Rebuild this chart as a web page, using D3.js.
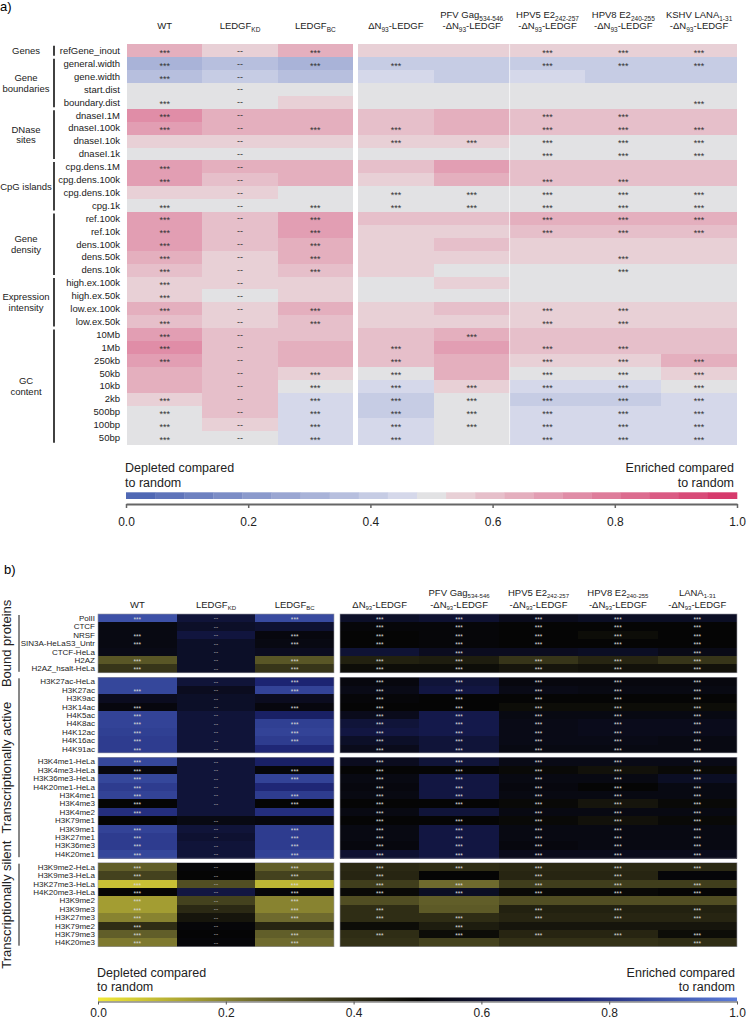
<!DOCTYPE html>
<html>
<head>
<meta charset="utf-8">
<script src="https://cdn.jsdelivr.net/npm/d3@7"></script>
<style>
  body { margin: 0; background: #fff; }
  svg { display: block; font-family: "Liberation Sans", Arial, Helvetica, sans-serif; }
</style>
</head>
<body>
<div id="chart"></div>
<script>
// ---------- panel a data ----------
var aRows = ["refGene_inout", "general.width", "gene.width", "start.dist", "boundary.dist",
  "dnaseI.1M", "dnaseI.100k", "dnaseI.10k", "dnaseI.1k",
  "cpg.dens.1M", "cpg.dens.100k", "cpg.dens.10k", "cpg.1k",
  "ref.100k", "ref.10k", "dens.100k", "dens.50k", "dens.10k",
  "high.ex.100k", "high.ex.50k", "low.ex.100k", "low.ex.50k",
  "10Mb", "1Mb", "250kb", "50kb", "10kb", "2kb", "500bp", "100bp", "50bp"];
var aGroups = [["Genes"], ["Gene", "boundaries"], ["DNase", "sites"], ["CpG islands"],
  ["Gene", "density"], ["Expression", "intensity"], ["GC", "content"]];
var aGroupSizes = [1, 4, 4, 4, 5, 4, 9];

// header lines: [text, isSubscript]
var aHeaders = [
  [[["WT"]]],
  [[["LEDGF"], ["KD", 1]]],
  [[["LEDGF"], ["BC", 1]]],
  [[["ΔN"], ["93", 1], ["-LEDGF"]]],
  [[["PFV Gag"], ["534-546", 1]], [["-ΔN"], ["93", 1], ["-LEDGF"]]],
  [[["HPV5 E2"], ["242-257", 1]], [["-ΔN"], ["93", 1], ["-LEDGF"]]],
  [[["HPV8 E2"], ["240-255", 1]], [["-ΔN"], ["93", 1], ["-LEDGF"]]],
  [[["KSHV LANA"], ["1-31", 1]], [["-ΔN"], ["93", 1], ["-LEDGF"]]]
];

// columns: WT, KD, BC, dN93, PFV, HPV5, HPV8, KSHV
var aValues = [
  [0.65, 0.55, 0.65, 0.55, 0.55, 0.55, 0.55, 0.55],
  [0.30, 0.37, 0.33, 0.40, 0.40, 0.40, 0.40, 0.40],
  [0.37, 0.41, 0.38, 0.45, 0.40, 0.45, 0.40, 0.40],
  [0.50, 0.50, 0.50, 0.50, 0.50, 0.50, 0.50, 0.50],
  [0.50, 0.50, 0.55, 0.50, 0.50, 0.50, 0.50, 0.50],
  [0.74, 0.64, 0.66, 0.60, 0.65, 0.60, 0.60, 0.60],
  [0.69, 0.63, 0.66, 0.60, 0.65, 0.60, 0.60, 0.60],
  [0.56, 0.56, 0.56, 0.56, 0.56, 0.50, 0.50, 0.50],
  [0.50, 0.50, 0.50, 0.50, 0.50, 0.50, 0.50, 0.50],
  [0.70, 0.63, 0.66, 0.60, 0.67, 0.59, 0.59, 0.59],
  [0.69, 0.60, 0.65, 0.57, 0.63, 0.59, 0.59, 0.59],
  [0.56, 0.56, 0.50, 0.50, 0.50, 0.50, 0.50, 0.50],
  [0.50, 0.50, 0.50, 0.50, 0.50, 0.50, 0.50, 0.50],
  [0.69, 0.60, 0.69, 0.60, 0.60, 0.63, 0.63, 0.63],
  [0.69, 0.60, 0.69, 0.56, 0.56, 0.60, 0.60, 0.60],
  [0.69, 0.60, 0.65, 0.56, 0.60, 0.56, 0.56, 0.56],
  [0.65, 0.56, 0.65, 0.56, 0.56, 0.56, 0.56, 0.56],
  [0.60, 0.56, 0.60, 0.56, 0.50, 0.50, 0.50, 0.50],
  [0.56, 0.56, 0.56, 0.50, 0.56, 0.50, 0.50, 0.50],
  [0.56, 0.50, 0.56, 0.50, 0.50, 0.50, 0.50, 0.50],
  [0.65, 0.56, 0.65, 0.56, 0.60, 0.56, 0.56, 0.56],
  [0.60, 0.56, 0.60, 0.56, 0.56, 0.56, 0.56, 0.56],
  [0.69, 0.60, 0.60, 0.60, 0.62, 0.60, 0.60, 0.60],
  [0.74, 0.60, 0.65, 0.60, 0.67, 0.60, 0.60, 0.60],
  [0.69, 0.60, 0.62, 0.60, 0.62, 0.56, 0.56, 0.62],
  [0.65, 0.60, 0.56, 0.50, 0.62, 0.50, 0.50, 0.56],
  [0.62, 0.60, 0.50, 0.45, 0.56, 0.45, 0.45, 0.50],
  [0.56, 0.60, 0.43, 0.40, 0.50, 0.40, 0.40, 0.45],
  [0.50, 0.60, 0.45, 0.40, 0.50, 0.45, 0.45, 0.45],
  [0.50, 0.56, 0.45, 0.45, 0.50, 0.45, 0.45, 0.45],
  [0.50, 0.50, 0.45, 0.45, 0.50, 0.45, 0.45, 0.45]
];
// "*" = ***, "-" = --, "." = nothing
var aSig = ["*-*..***", "*-**.***", "*-......", ".-......", "*-.....*",
  "*-...**.", "*-**.***", ".-.*****", ".-...***",
  "*-......", "*-...**.", ".-.*****", "*-******",
  "*-*..***", "*-*..***", "*-*.....", "*-*...*.", "*-*...*.",
  "*-......", "*-......", "*-*..**.", "*-*..**.",
  "*-..*...", "*-.*.**.", "*-.*.***", ".-**.***", ".-******",
  "*-******", "*-******", "*-******", "*-**.***"];
var aTicks = [0, 0.2, 0.4, 0.6, 0.8, 1.0];

// ---------- panel b data ----------
var bRows = ["PolII", "CTCF", "NRSF", "SIN3A-HeLaS3_Untr", "CTCF-HeLa", "H2AZ", "H2AZ_hsalt-HeLa",
  "H3K27ac-HeLa", "H3K27ac", "H3K9ac", "H3K14ac", "H4K5ac", "H4K8ac", "H4K12ac", "H4K16ac", "H4K91ac",
  "H3K4me1-HeLa", "H3K4me3-HeLa", "H3K36me3-HeLa", "H4K20me1-HeLa", "H3K4me1", "H3K4me3", "H3K4me2",
  "H3K79me1", "H3K9me1", "H3K27me1", "H3K36me3", "H4K20me1",
  "H3K9me2-HeLa", "H3K9me3-HeLa", "H3K27me3-HeLa", "H4K20me3-HeLa", "H3K9me2", "H3K9me3",
  "H3K27me3", "H3K79me2", "H3K79me3", "H4K20me3"];
var bBlockSizes = [7, 9, 12, 10];
var bSections = ["Bound proteins", "Transcriptionally active", "Transcriptionally silent"];
var bSectionBlocks = [[0], [1, 2], [3]];
var bHeaders = aHeaders.slice(0, 7).concat([[[["LANA"], ["1-31", 1]], [["-ΔN"], ["93", 1], ["-LEDGF"]]]]);

var bValues = [
  [0.88, 0.62, 0.86, 0.58, 0.60, 0.55, 0.57, 0.57],
  [0.53, 0.58, 0.60, 0.51, 0.51, 0.50, 0.50, 0.50],
  [0.53, 0.63, 0.52, 0.50, 0.51, 0.50, 0.48, 0.50],
  [0.53, 0.58, 0.53, 0.50, 0.51, 0.50, 0.50, 0.50],
  [0.54, 0.58, 0.56, 0.61, 0.56, 0.56, 0.57, 0.54],
  [0.30, 0.58, 0.30, 0.43, 0.44, 0.38, 0.42, 0.38],
  [0.38, 0.58, 0.38, 0.48, 0.48, 0.46, 0.47, 0.47],
  [0.85, 0.62, 0.75, 0.52, 0.62, 0.52, 0.52, 0.52],
  [0.85, 0.56, 0.84, 0.54, 0.64, 0.54, 0.53, 0.53],
  [0.56, 0.58, 0.56, 0.51, 0.50, 0.50, 0.50, 0.50],
  [0.52, 0.58, 0.52, 0.50, 0.50, 0.48, 0.48, 0.48],
  [0.84, 0.62, 0.72, 0.55, 0.66, 0.53, 0.53, 0.53],
  [0.84, 0.62, 0.83, 0.62, 0.66, 0.54, 0.55, 0.55],
  [0.83, 0.62, 0.84, 0.64, 0.66, 0.54, 0.55, 0.55],
  [0.82, 0.62, 0.82, 0.58, 0.62, 0.54, 0.54, 0.53],
  [0.82, 0.62, 0.76, 0.55, 0.62, 0.53, 0.53, 0.53],
  [0.85, 0.62, 0.72, 0.56, 0.62, 0.54, 0.54, 0.54],
  [0.52, 0.62, 0.51, 0.50, 0.50, 0.49, 0.47, 0.49],
  [0.85, 0.62, 0.84, 0.53, 0.64, 0.53, 0.53, 0.57],
  [0.82, 0.62, 0.76, 0.52, 0.64, 0.52, 0.50, 0.53],
  [0.84, 0.62, 0.82, 0.53, 0.64, 0.53, 0.53, 0.53],
  [0.50, 0.62, 0.50, 0.50, 0.50, 0.49, 0.46, 0.49],
  [0.78, 0.62, 0.78, 0.53, 0.62, 0.53, 0.53, 0.53],
  [0.50, 0.53, 0.52, 0.50, 0.50, 0.49, 0.47, 0.49],
  [0.84, 0.62, 0.82, 0.53, 0.64, 0.53, 0.53, 0.53],
  [0.82, 0.60, 0.82, 0.53, 0.64, 0.53, 0.53, 0.53],
  [0.82, 0.62, 0.82, 0.52, 0.64, 0.52, 0.53, 0.53],
  [0.85, 0.62, 0.84, 0.60, 0.64, 0.55, 0.55, 0.55],
  [0.28, 0.51, 0.28, 0.41, 0.40, 0.41, 0.41, 0.41],
  [0.35, 0.50, 0.35, 0.42, 0.50, 0.42, 0.42, 0.51],
  [0.08, 0.32, 0.10, 0.36, 0.25, 0.36, 0.36, 0.36],
  [0.50, 0.64, 0.51, 0.49, 0.57, 0.49, 0.49, 0.50],
  [0.15, 0.35, 0.20, 0.32, 0.28, 0.32, 0.32, 0.32],
  [0.15, 0.41, 0.20, 0.40, 0.29, 0.43, 0.43, 0.43],
  [0.20, 0.46, 0.25, 0.40, 0.40, 0.42, 0.42, 0.42],
  [0.40, 0.51, 0.42, 0.48, 0.44, 0.46, 0.46, 0.46],
  [0.28, 0.50, 0.28, 0.40, 0.48, 0.42, 0.42, 0.48],
  [0.22, 0.51, 0.25, 0.39, 0.35, 0.39, 0.39, 0.40]
];
var bSig = ["*-******", ".-.*****", "*-******", "*-******", ".-..*..*", "*-******", "*-******",
  ".-******", "*-******", ".-.*****", "*-******", "*-.*****", "*-******", "*-******", "*-******", "*-.*****",
  "*-.*****", "*-******", "*-******", "*-.*****", "*-******", "*-******", "*..*.***",
  ".-.*****", "*-******", "*-******", "*-******", "*-******",
  "*-******", "*-**.**.", "*-******", "*-******", "*-*.....", "*-**.***",
  "*-******", "*-..*...", "*-******", "*-*....*"];

// ---------- setup ----------
var W = 747, H = 1020;
var svg = d3.select("#chart").append("svg").attr("width", W).attr("height", H);

function addHeader(g, lines, x, baseY, lh, fs, sfs, sh) {
  var n = lines.length;
  lines.forEach(function(parts, li) {
    var t = g.append("text")
      .attr("x", x).attr("y", baseY - (n - 1 - li) * lh)
      .attr("text-anchor", "middle")
      .style("font-size", fs + "px").attr("fill", "#222");
    var prevSub = false;
    parts.forEach(function(p) {
      var isSub = !!p[1];
      var dy = (isSub && !prevSub) ? sh : ((!isSub && prevSub) ? -sh : 0);
      t.append("tspan").attr("dy", dy).style("font-size", (isSub ? sfs : fs) + "px").text(p[0]);
      prevSub = isSub;
    });
  });
}

// column position helper: first 3 cols in one block, next 5 in another
function makeX(left1, right1, left2, right2) {
  var b1 = d3.scaleBand().domain([0, 1, 2]).range([left1, right1]);
  var b2 = d3.scaleBand().domain([3, 4, 5, 6, 7]).range([left2, right2]);
  var f = function(i) { return i < 3 ? b1(i) : b2(i); };
  f.bw = function(i) { return i < 3 ? b1.bandwidth() : b2.bandwidth(); };
  return f;
}

// ================= panel a =================
var aBins = d3.range(21).map(function(k) {
  if (k < 10) return d3.interpolateRgb("#5068b4", "#d5d8ea")(k / 9);
  if (k === 10) return "#e2e2e4";
  return d3.interpolateRgb("#e8d0d6", "#d63a6c")((k - 11) / 9);
});
var aColor = d3.scaleQuantize().domain([0, 1]).range(aBins);
var xA = makeX(127, 353, 358, 737);
var yA = d3.scaleBand().domain(aRows).range([44.3, 444.2]);

var ga = svg.append("g");
ga.append("text").attr("x", 0).attr("y", 11).style("font-size", "13px").text("a)");

aHeaders.forEach(function(h, i) {
  addHeader(ga, h, xA(i) + xA.bw(i) / 2, 29, 11, 9.5, 6.5, 2.5);
});

var aCells = [];
aValues.forEach(function(row, r) {
  row.forEach(function(v, c) { aCells.push({r: r, c: c, v: v, s: aSig[r][c]}); });
});

ga.append("g").selectAll("rect").data(aCells).enter().append("rect")
  .attr("x", function(d) { return xA(d.c); })
  .attr("y", function(d) { return yA(aRows[d.r]); })
  .attr("width", function(d) { return xA.bw(d.c) + 0.3; })
  .attr("height", yA.bandwidth() + 0.3)
  .attr("fill", function(d) { return aColor(d.v); })
  .attr("shape-rendering", "crispEdges");

// faint separator inside right block
ga.append("line")
  .attr("x1", xA(5)).attr("x2", xA(5))
  .attr("y1", yA.range()[0]).attr("y2", yA.range()[1])
  .attr("stroke", "#fff").attr("stroke-opacity", 0.7).attr("stroke-width", 1);

ga.append("g").selectAll("text").data(aCells.filter(function(d) { return d.s !== "."; }))
  .enter().append("text")
  .attr("x", function(d) { return xA(d.c) + xA.bw(d.c) / 2; })
  .attr("y", function(d) { return yA(aRows[d.r]) + yA.bandwidth() / 2 + (d.s === "*" ? 5 : 3); })
  .attr("text-anchor", "middle")
  .style("font-size", "9px")
  .attr("fill", "#333")
  .text(function(d) { return d.s === "*" ? "***" : "--"; });

ga.append("g").selectAll("text").data(aRows).enter().append("text")
  .attr("x", 120)
  .attr("y", function(d) { return yA(d) + yA.bandwidth() / 2; })
  .attr("dy", "0.35em")
  .attr("text-anchor", "end")
  .style("font-size", "9.5px").attr("fill", "#222")
  .text(function(d) { return d; });

var start = 0;
aGroups.forEach(function(lines, gi) {
  var n = aGroupSizes[gi];
  var y0 = yA(aRows[start]), y1 = yA(aRows[start + n - 1]) + yA.bandwidth();
  ga.append("line").attr("x1", 54).attr("x2", 54).attr("y1", y0 + 1.5).attr("y2", y1 - 1.5)
    .attr("stroke", "#111").attr("stroke-width", 1.6);
  var mid = (y0 + y1) / 2;
  lines.forEach(function(l, li) {
    ga.append("text").attr("x", 26)
      .attr("y", mid + (li - (lines.length - 1) / 2) * 10.5)
      .attr("dy", "0.35em").attr("text-anchor", "middle")
      .style("font-size", "9.5px").attr("fill", "#222").text(l);
  });
  start += n;
});

// legend a
var aBarX = d3.scaleLinear().domain([0, 1]).range([126, 737]);
ga.append("text").attr("x", 125).attr("y", 472).style("font-size", "12.5px").attr("fill", "#222").text("Depleted compared");
ga.append("text").attr("x", 125).attr("y", 486.5).style("font-size", "12.5px").attr("fill", "#222").text("to random");
ga.append("text").attr("x", 734).attr("y", 472).attr("text-anchor", "end").style("font-size", "12.5px").attr("fill", "#222").text("Enriched compared");
ga.append("text").attr("x", 734).attr("y", 486.5).attr("text-anchor", "end").style("font-size", "12.5px").attr("fill", "#222").text("to random");
ga.append("g").selectAll("rect").data(aBins).enter().append("rect")
  .attr("x", function(d, k) { return aBarX(k / 21); })
  .attr("width", function(d, k) { return aBarX((k + 1) / 21) - aBarX(k / 21) + 0.3; })
  .attr("y", 492.3).attr("height", 6.7)
  .attr("fill", function(d) { return d; });

var axA = ga.append("g").attr("transform", "translate(0,504)")
  .call(d3.axisBottom(aBarX).tickValues(aTicks).tickFormat(d3.format(".1f"))
    .tickSize(4).tickSizeOuter(0).tickPadding(9));
axA.select(".domain").attr("stroke", "#666").attr("stroke-width", 2);
axA.selectAll(".tick line").attr("stroke", "#666").attr("stroke-width", 1.5);
axA.selectAll(".tick text").style("font-size", "12px").style("font-family", "Liberation Sans, Arial, sans-serif").attr("fill", "#222");

// ================= panel b =================
var bColor = d3.scaleLinear()
  .domain([0, 0.25, 0.5, 0.75, 1])
  .range(["#f2e938", "#6e6a2e", "#050505", "#1c2472", "#5b7bd8"]);
var xB = makeX(98, 334, 340, 737);
var bRowH = 8.4, bGap = 4.5, bTop = 614;
var bBlocks = [];
var idx = 0, yy = bTop;
bBlockSizes.forEach(function(n) {
  var rows = bRows.slice(idx, idx + n);
  var sc = d3.scaleBand().domain(rows).range([yy, yy + n * bRowH]);
  bBlocks.push({rows: rows, scale: sc, y0: yy, y1: yy + n * bRowH, start: idx});
  idx += n;
  yy += n * bRowH + bGap;
});
function yB(r) {
  for (var i = 0; i < bBlocks.length; i++) {
    if (r < bBlocks[i].start + bBlocks[i].rows.length) return bBlocks[i].scale(bRows[r]);
  }
}

var gb = svg.append("g");
gb.append("text").attr("x", 4).attr("y", 574).style("font-size", "13px").text("b)");

bHeaders.forEach(function(h, i) {
  addHeader(gb, h, xB(i) + xB.bw(i) / 2, 607.5, 11.5, 9.5, 6, 2);
});

var bCells = [];
bValues.forEach(function(row, r) {
  row.forEach(function(v, c) { bCells.push({r: r, c: c, v: v, s: bSig[r][c]}); });
});

gb.append("g").selectAll("rect").data(bCells).enter().append("rect")
  .attr("x", function(d) { return xB(d.c); })
  .attr("y", function(d) { return yB(d.r); })
  .attr("width", function(d) { return xB.bw(d.c) + 0.3; })
  .attr("height", bRowH + 0.3)
  .attr("fill", function(d) { return bColor(d.v); })
  .attr("shape-rendering", "crispEdges");

// block outlines
bBlocks.forEach(function(b) {
  [[98, 334], [340, 737]].forEach(function(ext) {
    gb.append("rect").attr("x", ext[0]).attr("y", b.y0)
      .attr("width", ext[1] - ext[0]).attr("height", b.y1 - b.y0)
      .attr("fill", "none").attr("stroke", "#9a9aa4").attr("stroke-width", 0.6);
  });
});

gb.append("g").selectAll("text").data(bCells.filter(function(d) { return d.s !== "."; }))
  .enter().append("text")
  .attr("x", function(d) { return xB(d.c) + xB.bw(d.c) / 2; })
  .attr("y", function(d) { return yB(d.r) + bRowH / 2 + (d.s === "*" ? 3.8 : 2.2); })
  .attr("text-anchor", "middle")
  .style("font-size", "6.5px")
  .attr("fill", function(d) { return d.s === "*" ? "#d8d8d8" : "#aaa"; })
  .text(function(d) { return d.s === "*" ? "***" : "--"; });

gb.append("g").selectAll("text").data(bRows).enter().append("text")
  .attr("x", 95)
  .attr("y", function(d, i) { return yB(i) + bRowH / 2; })
  .attr("dy", "0.35em")
  .attr("text-anchor", "end")
  .style("font-size", "8px").attr("fill", "#222")
  .text(function(d) { return d; });

bSections.forEach(function(name, si) {
  var blks = bSectionBlocks[si];
  var y0 = bBlocks[blks[0]].y0, y1 = bBlocks[blks[blks.length - 1]].y1;
  gb.append("line").attr("x1", 19).attr("x2", 19).attr("y1", y0 + 1).attr("y2", y1 - 1)
    .attr("stroke", "#111").attr("stroke-width", 1);
  gb.append("text")
    .attr("transform", "translate(11," + ((y0 + y1) / 2) + ") rotate(-90)")
    .attr("text-anchor", "middle")
    .style("font-size", "13px").attr("fill", "#222")
    .text(name);
});

// legend b
var bBarX = d3.scaleLinear().domain([0, 1]).range([98, 737]);
gb.append("text").attr("x", 97).attr("y", 977).style("font-size", "12.5px").attr("fill", "#222").text("Depleted compared");
gb.append("text").attr("x", 97).attr("y", 990.5).style("font-size", "12.5px").attr("fill", "#222").text("to random");
gb.append("text").attr("x", 735).attr("y", 977).attr("text-anchor", "end").style("font-size", "12.5px").attr("fill", "#222").text("Enriched compared");
gb.append("text").attr("x", 735).attr("y", 990.5).attr("text-anchor", "end").style("font-size", "12.5px").attr("fill", "#222").text("to random");

var grad = svg.append("defs").append("linearGradient").attr("id", "bgrad")
  .attr("x1", "0%").attr("x2", "100%").attr("y1", "0%").attr("y2", "0%");
grad.selectAll("stop").data(d3.range(0, 1.0001, 0.05)).enter().append("stop")
  .attr("offset", function(d) { return (d * 100) + "%"; })
  .attr("stop-color", function(d) { return bColor(d); });
gb.append("rect").attr("x", bBarX(0)).attr("y", 997.5)
  .attr("width", bBarX(1) - bBarX(0)).attr("height", 3.8)
  .attr("fill", "url(#bgrad)");

var axB = gb.append("g").attr("transform", "translate(0,1001.5)")
  .call(d3.axisBottom(bBarX).tickValues(aTicks).tickFormat(d3.format(".1f"))
    .tickSize(3).tickSizeOuter(0).tickPadding(3.5));
axB.select(".domain").attr("stroke", "#555").attr("stroke-width", 1.2);
axB.selectAll(".tick line").attr("stroke", "#555").attr("stroke-width", 1);
axB.selectAll(".tick text").style("font-size", "12px").style("font-family", "Liberation Sans, Arial, sans-serif").attr("fill", "#222");
</script>
</body>
</html>
